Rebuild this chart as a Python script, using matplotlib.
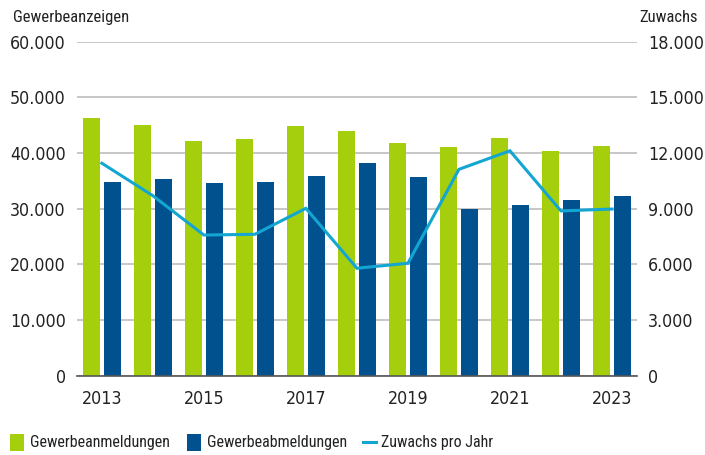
import numpy as np
import matplotlib

matplotlib.use("Agg")
import matplotlib.pyplot as plt
from matplotlib.patches import Rectangle
from matplotlib.lines import Line2D
from matplotlib.ticker import FuncFormatter

plt.rcParams["font.family"] = ["DejaVu Sans"]
plt.rcParams["font.stretch"] = "condensed"

years = [2013, 2014, 2015, 2016, 2017, 2018, 2019, 2020, 2021, 2022, 2023]
anmeldungen = [46300, 45000, 42150, 42500, 44850, 43950, 41800, 41100, 42700, 40350, 41250]
abmeldungen = [34800, 35300, 34600, 34800, 35900, 38200, 35700, 29950, 30600, 31550, 32300]
zuwachs = [11450, 9700, 7580, 7620, 9020, 5790, 6060, 11120, 12120, 8880, 8980]
year_labels = ["2013", "", "2015", "", "2017", "", "2019", "", "2021", "", "2023"]

GREEN = "#a5cf0c"
BLUE = "#00518e"
CYAN = "#14a6d2"
TXT = "#222222"
W, H = 705, 455

fmt = FuncFormatter(lambda v, p: f"{int(v):,}".replace(",", "."))

fig = plt.figure(figsize=(W / 100, H / 100), dpi=100)
ax = fig.add_axes([0.109, 0.1743, 0.7945, 0.7341])
ax2 = ax.twinx()

x = np.arange(len(years))
w = 0.335
ax.bar(x - 0.206, anmeldungen, w, color=GREEN, zorder=2)
ax.bar(x + 0.206, abmeldungen, w, color=BLUE, zorder=2)
ax2.plot(x, zuwachs, color=CYAN, lw=2.2, solid_joinstyle="miter", zorder=3)

ax.set_xlim(-0.49, 10.49)
ax.set_ylim(0, 60000)
ax2.set_ylim(0, 18000)
ax.set_yticks(np.arange(0, 60001, 10000))
ax2.set_yticks(np.arange(0, 18001, 3000))
ax.yaxis.set_major_formatter(fmt)
ax2.yaxis.set_major_formatter(fmt)
ax.set_xticks(x)
ax.set_xticklabels(year_labels)

ax.grid(axis="y", color="#bdbdbd", lw=1.2, zorder=0)
ax.set_axisbelow(True)
for a in (ax, ax2):
    for s in a.spines.values():
        s.set_visible(False)
    a.tick_params(length=0, labelsize=12.8, colors=TXT)
ax.spines["bottom"].set_visible(True)
ax.spines["bottom"].set_color("#555555")
ax.spines["bottom"].set_linewidth(1.2)
ax.tick_params(axis="y", pad=8)
ax2.tick_params(axis="y", pad=8)
ax.tick_params(axis="x", pad=10)

NARROW = ["Roboto Condensed", "DejaVu Sans"]
fig.text(0.018, 0.962, "Gewerbeanzeigen", fontsize=12, family=NARROW, color=TXT, va="center", ha="left")
fig.text(0.99, 0.962, "Zuwachs", fontsize=12, family=NARROW, color=TXT, va="center", ha="right")


# legend placed by hand, in pixel units of the figure
def px(xp, yp):
    return xp / W, 1 - yp / H


leg_y = 442
fig.add_artist(Rectangle(px(10, 451), 14 / W, 17 / H, transform=fig.transFigure,
                         facecolor=GREEN, edgecolor="none"))
fig.add_artist(Rectangle(px(187, 451), 14 / W, 17 / H, transform=fig.transFigure,
                         facecolor=BLUE, edgecolor="none"))
fig.add_artist(Line2D([363 / W, 376 / W], [1 - leg_y / H] * 2, transform=fig.transFigure,
                      color=CYAN, lw=2.2))
for xt, label in [(30, "Gewerbeanmeldungen"), (207, "Gewerbeabmeldungen"), (381, "Zuwachs pro Jahr")]:
    fig.text(*px(xt, leg_y), label, fontsize=11.5, family=NARROW, color=TXT, va="center", ha="left")

fig.savefig("out.png", dpi=100)
